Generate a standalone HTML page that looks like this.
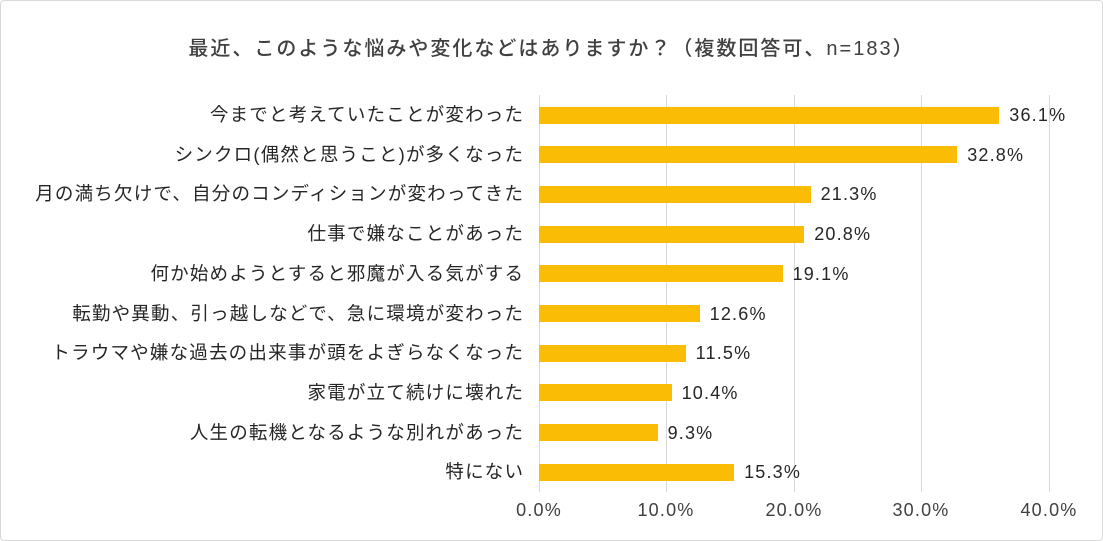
<!DOCTYPE html>
<html><head><meta charset="utf-8"><style>
html,body{margin:0;padding:0;background:#fff;}
body{width:1103px;height:541px;position:relative;overflow:hidden;font-family:"Liberation Sans","Noto Sans CJK JP",sans-serif;}
.frame{position:absolute;left:0;top:0;width:1101px;height:539px;border:1px solid #d9d9d9;border-radius:4px;}
.title{position:absolute;left:0;width:1103px;top:32px;text-align:center;font-size:20px;color:#404040;font-weight:500;letter-spacing:2px;}
.grid{position:absolute;top:95px;height:397px;width:1px;background:#d9d9d9;}
.bar{position:absolute;left:539px;height:17px;background:#FBBC05;}
.lab{position:absolute;right:580px;font-size:18.5px;color:#262626;white-space:nowrap;line-height:20px;letter-spacing:1.2px;margin-right:-1.2px;}
.val{position:absolute;font-size:18px;color:#262626;line-height:20px;font-weight:500;letter-spacing:1.2px;}
.tick{position:absolute;top:500px;font-size:18px;color:#404040;width:90px;text-align:center;letter-spacing:1.2px;}
</style></head><body>
<div class="frame"></div>
<div class="title">最近、このような悩みや変化などはありますか？（複数回答可、n=183）</div>
<div class="grid" style="left:539px"></div>
<div class="grid" style="left:666px"></div>
<div class="grid" style="left:794px"></div>
<div class="grid" style="left:921px"></div>
<div class="grid" style="left:1049px"></div>
<div id="c"></div>
<div class="tick" style="left:494px">0.0%</div>
<div class="tick" style="left:621px">10.0%</div>
<div class="tick" style="left:749px">20.0%</div>
<div class="tick" style="left:876px">30.0%</div>
<div class="tick" style="left:1004px">40.0%</div>
<script>
var d=[["今までと考えていたことが変わった",36.1],["シンクロ(偶然と思うこと)が多くなった",32.8],["月の満ち欠けで、自分のコンディションが変わってきた",21.3],["仕事で嫌なことがあった",20.8],["何か始めようとすると邪魔が入る気がする",19.1],["転勤や異動、引っ越しなどで、急に環境が変わった",12.6],["トラウマや嫌な過去の出来事が頭をよぎらなくなった",11.5],["家電が立て続けに壊れた",10.4],["人生の転機となるような別れがあった",9.3],["特にない",15.3]];
var h="";
d.forEach(function(r,i){var c=115+i*39.7;var w=r[1]*12.75;
h+='<div class="bar" style="top:'+(c-8.5)+'px;width:'+w+'px"></div>';
h+='<div class="lab" style="top:'+(c-10)+'px">'+r[0]+'</div>';
h+='<div class="val" style="top:'+(c-10)+'px;left:'+(539+w+10)+'px">'+r[1].toFixed(1)+'%</div>';});
document.getElementById("c").innerHTML=h;
</script>
</body></html>
